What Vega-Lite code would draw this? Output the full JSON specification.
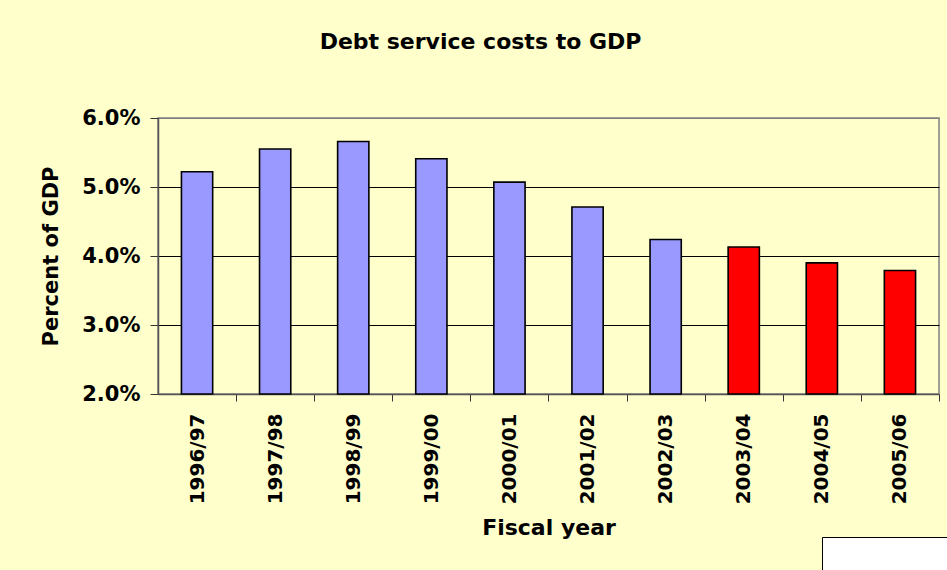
{
  "$schema": "https://vega.github.io/schema/vega-lite/v6.json",
  "autosize": {"type": "none"},
  "width": 781,
  "height": 276,
  "padding": {"left": 158, "top": 118, "right": 8, "bottom": 176},
  "background": "#FFFFCC",
  "title": {
    "text": "Debt service costs to GDP",
    "font": "DejaVu Sans",
    "fontWeight": "bold",
    "fontSize": 22,
    "color": "#000000",
    "anchor": "middle",
    "frame": "group",
    "dx": -68,
    "baseline": "alphabetic",
    "offset": 36
  },
  "data": {
    "values": [
      {"year": "1996/97", "pct": 5.22, "status": "Actual"},
      {"year": "1997/98", "pct": 5.55, "status": "Actual"},
      {"year": "1998/99", "pct": 5.66, "status": "Actual"},
      {"year": "1999/00", "pct": 5.41, "status": "Actual"},
      {"year": "2000/01", "pct": 5.07, "status": "Actual"},
      {"year": "2001/02", "pct": 4.71, "status": "Actual"},
      {"year": "2002/03", "pct": 4.24, "status": "Actual"},
      {"year": "2003/04", "pct": 4.13, "status": "Forecast"},
      {"year": "2004/05", "pct": 3.90, "status": "Forecast"},
      {"year": "2005/06", "pct": 3.79, "status": "Forecast"}
    ]
  },
  "mark": {"type": "bar", "stroke": "#000000", "strokeWidth": 1.6},
  "encoding": {
    "x": {
      "field": "year",
      "type": "nominal",
      "sort": null,
      "scale": {"paddingInner": 0.6, "paddingOuter": 0.3},
      "axis": {
        "title": "Fiscal year",
        "titleFont": "DejaVu Sans",
        "titleFontWeight": "bold",
        "titleFontSize": 22,
        "titleColor": "#000000",
        "titlePadding": 14,
        "labelFont": "DejaVu Sans",
        "labelFontWeight": "bold",
        "labelFontSize": 20,
        "labelColor": "#000000",
        "labelAngle": -90,
        "labelPadding": 12,
        "bandPosition": 1,
        "tickOffset": 23.4,
        "labelOffset": -23.4,
        "tickSize": 7,
        "tickColor": "#333333",
        "domainColor": "#555555",
        "domainWidth": 1.5,
        "grid": false
      }
    },
    "y": {
      "field": "pct",
      "type": "quantitative",
      "scale": {"domain": [2, 6], "zero": false, "nice": false},
      "axis": {
        "title": "Percent of GDP",
        "titleFont": "DejaVu Sans",
        "titleFontWeight": "bold",
        "titleFontSize": 21,
        "titleColor": "#000000",
        "titlePadding": 20,
        "labelFont": "DejaVu Sans",
        "labelFontWeight": "bold",
        "labelFontSize": 21,
        "labelColor": "#000000",
        "labelPadding": 10,
        "labelExpr": "format(datum.value, '.1f') + '%'",
        "values": [2, 3, 4, 5, 6],
        "tickSize": 8,
        "tickColor": "#333333",
        "domainColor": "#555555",
        "domainWidth": 1.5,
        "grid": true,
        "gridColor": {"condition": {"test": "datum.value >= 6 || datum.value <= 2", "value": "#808080"}, "value": "#000000"},
        "gridWidth": 1
      }
    },
    "y2": {"datum": 2},
    "color": {
      "field": "status",
      "type": "nominal",
      "scale": {"domain": ["Actual", "Forecast"], "range": ["#9999FF", "#FF0000"]},
      "legend": {
        "title": null,
        "orient": "none",
        "legendX": 664,
        "legendY": 419,
        "fillColor": "#FFFFFF",
        "strokeColor": "#000000",
        "padding": 40,
        "labelExpr": "''",
        "symbolType": "square",
        "symbolSize": 2500
      }
    }
  },
  "config": {
    "view": {"stroke": "#808080", "strokeWidth": 1.5}
  }
}
